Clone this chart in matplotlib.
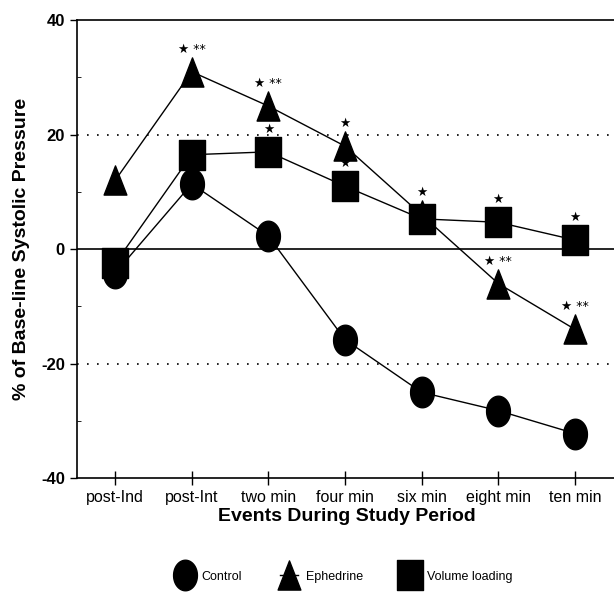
import numpy as np
import matplotlib.pyplot as plt
from matplotlib.lines import Line2D
from matplotlib.path import Path

plt.rcParams['font.family'] = ['Liberation Sans', 'DejaVu Sans']

events = ['post-Ind', 'post-Int', 'two min', 'four min', 'six min', 'eight min', 'ten min']
control = [-4.2, 11.4, 2.3, -15.8, -25.0, -28.2, -32.2]
ephedrine = [12.0, 31.0, 25.0, 18.0, 6.0, -6.0, -14.0]
volume = [-2.5, 16.5, 17.0, 11.0, 5.3, 4.7, 1.6]

eph_marks = ['\u2605 **', '\u2605 **', '\u2605', '\u2605', '\u2605 **', '\u2605 **']
eph_mark_idx = [1, 2, 3, 4, 5, 6]
vol_marks = ['\u2605', '\u2605', '\u2605', '\u2605']
vol_mark_idx = [2, 3, 5, 6]

# tall markers like in the scanned figure
t = np.linspace(0, 2 * np.pi, 60)
ellipse = Path(np.column_stack([0.78 * np.cos(t), np.sin(t)]), closed=True)
tall_sq = Path([(-0.82, -1), (0.82, -1), (0.82, 1), (-0.82, 1), (-0.82, -1)], closed=True)
tall_tri = Path([(-0.78, -1), (0.78, -1), (0, 1), (-0.78, -1)], closed=True)

fig = plt.figure(figsize=(6.14, 5.94), dpi=100)
ax = fig.add_axes([0.125, 0.195, 0.88, 0.771])

x = np.arange(len(events))
ax.axhline(0, color='black', lw=1.2, zorder=1)
for yv in (20, -20):
    ax.axhline(yv, color='black', lw=1.2, ls=(0, (1, 5)), zorder=1)

ax.plot(x, control, color='black', lw=1, marker=ellipse, ms=22, zorder=3)
ax.plot(x, ephedrine, color='black', lw=1, marker=tall_tri, ms=21, zorder=2)
ax.plot(x, volume, color='black', lw=1, marker=tall_sq, ms=22, zorder=4)

for i, s in zip(eph_mark_idx, eph_marks):
    ax.text(x[i], ephedrine[i] + 2.8, s, ha='center', va='bottom', fontsize=9,
            family=['DejaVu Sans'], zorder=5)
for i, s in zip(vol_mark_idx, vol_marks):
    ax.text(x[i], volume[i] + 2.8, s, ha='center', va='bottom', fontsize=9,
            family=['DejaVu Sans'], zorder=5)

ax.set_xlim(-0.5, 6.55)
ax.set_ylim(-40, 40)
ax.set_xticks(x)
ax.set_xticklabels(events, fontsize=11.5)
ax.set_yticks([-40, -20, 0, 20, 40])
ax.set_yticks([-30, -10, 10, 30], minor=True)
ax.set_yticklabels(['-40', '-20', '0', '20', '40'], fontsize=12, fontweight='bold')
ax.tick_params(axis='x', direction='inout', length=10, width=1)
ax.tick_params(axis='y', direction='out', length=5, width=1)
ax.tick_params(axis='y', which='minor', direction='in', length=3)
for sp in ax.spines.values():
    sp.set_linewidth(1.2)
ax.spines['right'].set_visible(False)

ax.set_xlabel('Events During Study Period', fontsize=14, fontweight='bold', labelpad=2)
ax.set_ylabel('% of Base-line Systolic Pressure', fontsize=14, fontweight='bold', labelpad=8)

handles = [Line2D([], [], color='black', lw=0, marker=ellipse, ms=22),
           Line2D([], [], color='black', lw=1, marker=tall_tri, ms=21),
           Line2D([], [], color='black', lw=0, marker=tall_sq, ms=22)]
fig.legend(handles, ['Control', 'Ephedrine', 'Volume loading'], loc='lower center',
           bbox_to_anchor=(0.56, 0.0), ncol=3, frameon=False, fontsize=9,
           handlelength=1.5, columnspacing=3, handletextpad=0.6)

fig.savefig('out.png', dpi=100)
